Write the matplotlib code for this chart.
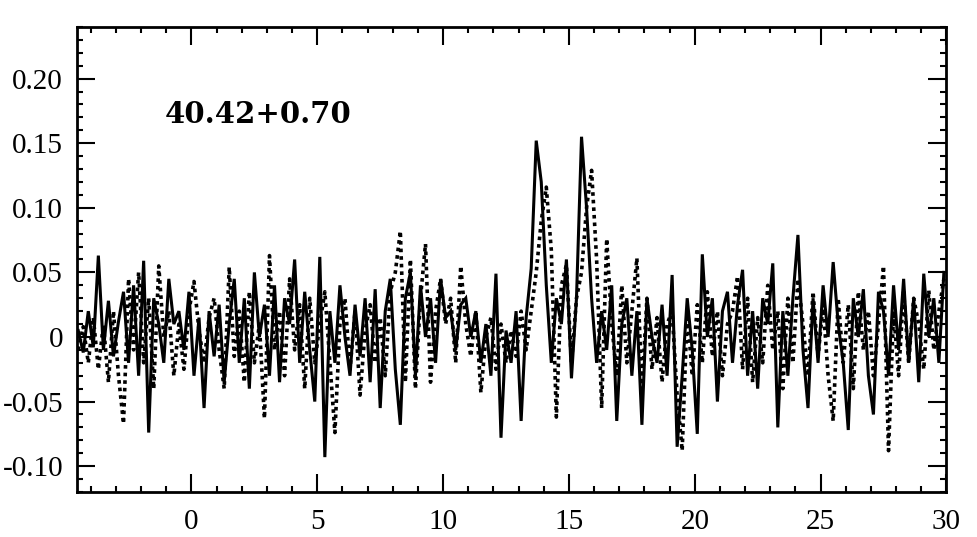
import numpy as np
import matplotlib
matplotlib.use("Agg")
import matplotlib.pyplot as plt
from matplotlib.ticker import MultipleLocator, FixedLocator

# channel grid (km/s)
v_start = -4.5
v_step = 0.2

# solid spectrum
solid = [
    0.005, -0.012, 0.02, -0.008, 0.063, -0.01, 0.028, -0.015, 0.012, 0.035,
    -0.02, 0.04, -0.03, 0.059, -0.074, 0.03, 0.01, -0.02, 0.045, 0.01,
    0.02, -0.01, 0.035, -0.03, 0.015, -0.055, 0.02, -0.015, 0.025, -0.035,
    0.01, 0.045, -0.02, 0.03, -0.04, 0.05, 0.0, 0.025, -0.03, 0.04,
    -0.035, 0.03, 0.01, 0.06, -0.02, 0.035, -0.01, -0.05, 0.062, -0.093,
    0.02, -0.02, 0.04, 0.0, -0.03, 0.025, -0.015, 0.03, -0.035, 0.037,
    -0.055, 0.02, 0.045, -0.025, -0.068, 0.03, 0.05, -0.03, 0.04, 0.0,
    0.03, -0.02, 0.045, 0.015, 0.02, -0.01, 0.025, 0.03, 0.0, 0.02,
    -0.02, 0.01, -0.03, 0.049, -0.078, 0.005, -0.02, 0.02, -0.065, 0.015,
    0.053, 0.152, 0.12, 0.04, -0.02, 0.03, 0.01, 0.06, -0.032, 0.03,
    0.155, 0.1, 0.03, -0.02, 0.02, -0.01, 0.04, -0.065, 0.01, 0.03,
    -0.03, 0.02, -0.068, 0.03, 0.0, -0.02, 0.025, -0.03, 0.048, -0.085,
    -0.03, 0.03, -0.01, -0.075, 0.064, 0.0, 0.03, -0.05, 0.02, 0.035,
    -0.02, 0.025, 0.052, -0.03, 0.02, -0.04, 0.03, 0.01, 0.057, -0.07,
    0.02, -0.03, 0.03, 0.079, -0.01, -0.055, 0.03, -0.02, 0.04, 0.0,
    0.058, 0.01, -0.02, -0.072, 0.03, 0.0, 0.037, -0.03, -0.06, 0.035,
    0.02, -0.03, 0.04, -0.01, 0.045, -0.02, 0.03, -0.035, 0.049, 0.0,
    0.03, -0.02, 0.05,
]

# dotted spectrum
dotted = [
    -0.01, 0.008, -0.02, 0.015, -0.025, 0.01, -0.035, 0.02, -0.03, -0.067,
    0.045, -0.01, 0.05, -0.02, 0.03, -0.04, 0.055, 0.0, 0.02, -0.03,
    0.01, -0.025, 0.02, 0.043, 0.005, -0.02, 0.015, 0.03, -0.01, -0.04,
    0.054, -0.015, 0.02, -0.035, 0.035, -0.02, 0.01, -0.063, 0.063, -0.01,
    0.02, -0.03, 0.045, -0.01, 0.025, -0.04, 0.03, -0.02, 0.01, 0.035,
    -0.02, -0.074, 0.01, 0.03, -0.025, 0.02, -0.045, 0.005, 0.025, -0.02,
    0.015, -0.03, 0.035, 0.05, 0.082, -0.035, 0.06, -0.04, 0.03, 0.072,
    -0.035, 0.02, 0.045, 0.01, 0.03, -0.02, 0.055, 0.01, -0.015, 0.02,
    -0.043, 0.0, 0.015, -0.025, 0.01, -0.02, 0.005, -0.015, 0.02, -0.01,
    0.02, 0.05, 0.09, 0.116, 0.067, -0.062, 0.04, 0.056, -0.02, 0.03,
    0.05, 0.1, 0.129, 0.06, -0.055, 0.076, 0.01, -0.03, 0.04, -0.02,
    0.02, 0.061, -0.04, 0.03, -0.025, 0.015, -0.035, 0.01, 0.02, -0.045,
    -0.088, 0.02, -0.03, 0.025, -0.02, 0.035, -0.015, 0.02, -0.03, 0.01,
    0.02, 0.047, -0.025, 0.03, -0.035, 0.015, -0.02, 0.04, -0.01, 0.02,
    -0.04, 0.03, -0.02, 0.045, 0.01, -0.03, 0.035, -0.015, 0.025, -0.03,
    -0.065, 0.03, -0.02, 0.025, -0.04, 0.035, -0.01, 0.02, -0.03, 0.01,
    0.055, -0.088, 0.02, -0.03, 0.035, -0.02, 0.03, 0.01, -0.025, 0.036,
    -0.01, 0.02, 0.045,
]

label = "40.42+0.70"
xticks = [0, 5, 10, 15, 20, 25, 30]
yticks = [-0.10, -0.05, 0, 0.05, 0.10, 0.15, 0.20]
ytick_labels = ["-0.10", "-0.05", "0", "0.05", "0.10", "0.15", "0.20"]

vel = v_start + v_step * np.arange(len(solid))

plt.rcParams['font.family'] = ['Liberation Serif', 'DejaVu Serif']

fig = plt.figure(figsize=(9.78, 5.37), dpi=100)
ax = fig.add_axes([0.0787, 0.0838, 0.889, 0.866])

ax.plot(vel, solid, color='black', lw=2.2, solid_joinstyle='miter')
ax.plot(vel, dotted, color='black', lw=2.6, linestyle=(0, (1.0, 1.1)))

ax.set_xlim(-4.55, 30)
ax.set_ylim(-0.12, 0.24)

ax.xaxis.set_major_locator(FixedLocator(xticks))
ax.xaxis.set_minor_locator(MultipleLocator(1))
ax.yaxis.set_major_locator(FixedLocator(yticks))
ax.yaxis.set_minor_locator(MultipleLocator(0.01))
ax.set_yticklabels(ytick_labels)

ax.tick_params(which='both', direction='in', top=True, right=True, width=1.5)
ax.tick_params(which='major', length=13, labelsize=21)
ax.tick_params(axis='y', which='major', pad=10)
ax.tick_params(axis='x', which='major', pad=12)
ax.tick_params(which='minor', length=4)
for s in ax.spines.values():
    s.set_linewidth(2)

ax.text(0.101, 0.811, label, transform=ax.transAxes, fontsize=21,
        fontweight='bold', family='DejaVu Serif', va='center', ha='left')

fig.savefig("out.png", dpi=100)
